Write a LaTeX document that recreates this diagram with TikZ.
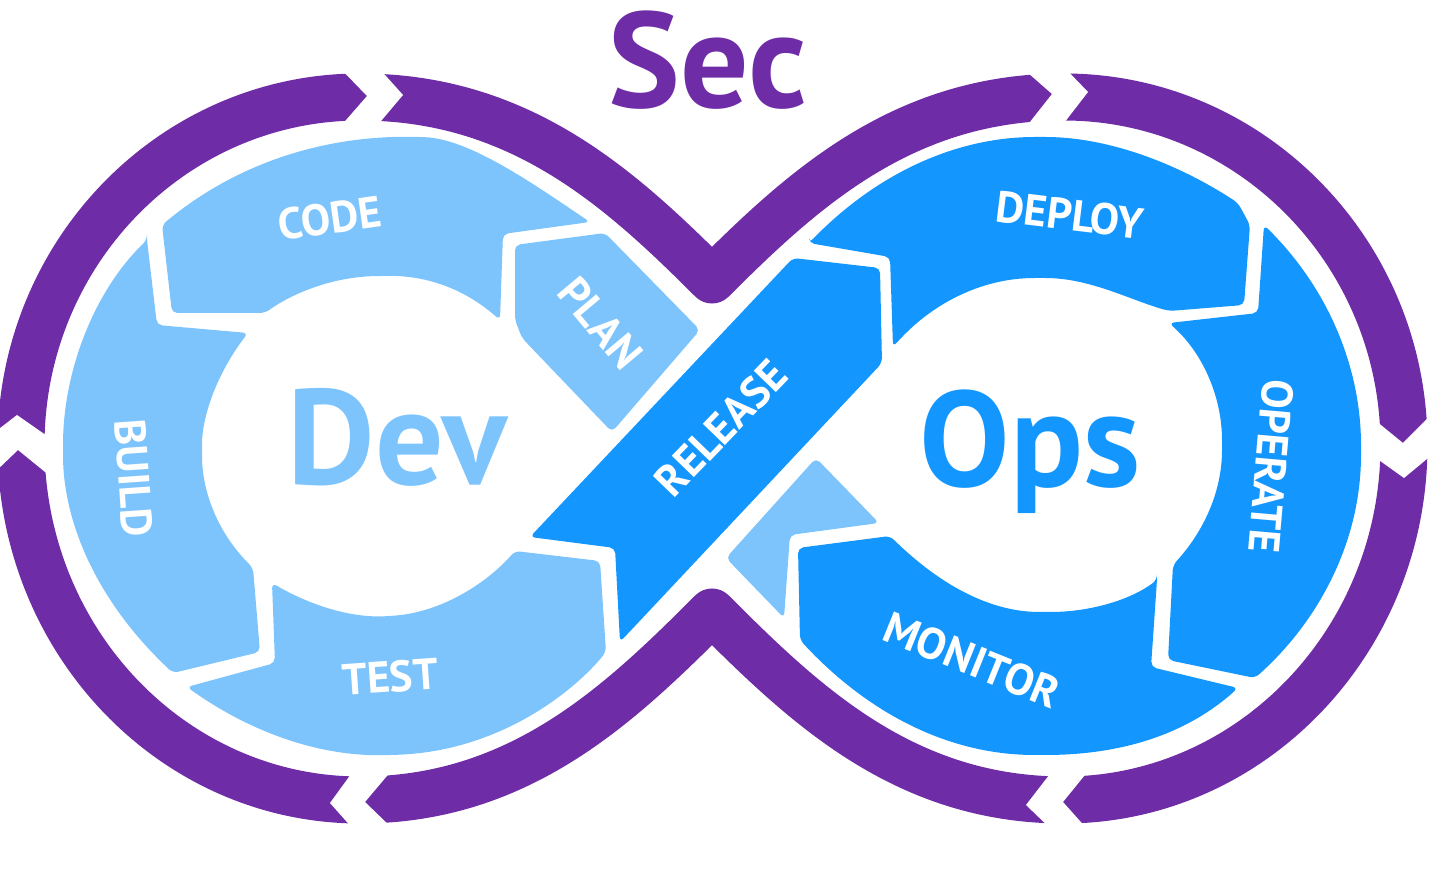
\documentclass[tikz,border=0pt]{standalone}
\usepackage{fontspec}
\setmainfont{PT Sans}

\definecolor{secpurple}{RGB}{111,44,167}
\definecolor{devblue}{RGB}{125,196,253}
\definecolor{opsblue}{RGB}{20,150,255}

\begin{document}
\begin{tikzpicture}[x=0.01cm,y=-0.01cm,
  band/.style={secpurple,line width=0.47cm,line join=round},
  gapcut/.style={fill=white},
  devpiece/.style={fill=devblue,rounded corners=1.5pt},
  opspiece/.style={fill=opsblue,rounded corners=1.5pt},
  steplabel/.style={white,font=\bfseries\fontsize{12.5}{14}\selectfont,inner sep=0},
  bigword/.style={font=\bfseries\fontsize{38.5}{44}\selectfont,inner sep=0,anchor=base}]

\useasboundingbox (0,0) rectangle (1456,876);

% Outer band
\draw[band] (21,445) .. controls (21,253) and (173,97) .. (360,97)
  .. controls (520,97) and (620,188) .. (712,280)
  .. controls (804,188) and (904,97) .. (1064,97)
  .. controls (1251,97) and (1404,253) .. (1404,445)
  .. controls (1404,641) and (1251,800) .. (1064,800)
  .. controls (904,800) and (804,704) .. (712,612)
  .. controls (620,704) and (520,800) .. (360,800)
  .. controls (173,800) and (21,641) .. (21,445) -- cycle;

% breaks in the band
\fill[gapcut] (338,66) -- (367,96) -- (340,127) -- (376,127) -- (403,95) -- (377,66) -- cycle;
\fill[gapcut] (1019,65) -- (1052,94) -- (1026,127) -- (1061,127) -- (1088,92) -- (1062,65) -- cycle;
\fill[gapcut] (1376,421) -- (1403,443) -- (1433,413) -- (1433,454) -- (1404,478) -- (1376,458) -- cycle;
\fill[gapcut] (1089,770) -- (1063,802) -- (1088,830) -- (1052,830) -- (1026,805) -- (1053,770) -- cycle;
\fill[gapcut] (392,770) -- (365,802) -- (394,830) -- (354,830) -- (330,803) -- (354,770) -- cycle;
\fill[gapcut] (-5,472) -- (18,450) -- (50,476) -- (50,438) -- (17,415) -- (-5,432) -- cycle;

% Dev loop
\fill[devpiece] (162,225) .. controls (240,160) and (330,135) .. (420,137)
  .. controls (470,139) and (535,185) .. (590,222) -- (503,234) -- (500,320)
  .. controls (460,285) and (420,275) .. (380,276)
  .. controls (330,277) and (290,295) .. (265,313) -- (172,313) -- cycle;
\fill[devpiece] (147,240) -- (157,325) -- (248,333)
  .. controls (218,372) and (202,415) .. (202,450)
  .. controls (202,495) and (220,535) .. (253,568)
  -- (260,652) -- (173,673)
  .. controls (95,600) and (63,520) .. (63,450)
  .. controls (63,370) and (95,290) .. (147,240) -- cycle;
\fill[devpiece] (272,583) .. controls (310,605) and (350,618) .. (390,616)
  .. controls (440,612) and (485,585) .. (515,551) -- (600,561) -- (606,652)
  .. controls (575,690) and (500,752) .. (390,755)
  .. controls (310,757) and (240,725) .. (187,687) -- (275,663) -- cycle;
\fill[devpiece] (515,245) -- (605,233) -- (700,330) -- (612,432) -- (522,338) -- (515,320) -- cycle;
\fill[devpiece] (816,458) -- (879,523) -- (790,535) -- (784,618) -- (726,558) -- cycle;

% Ops loop
\fill[opspiece] (530,537) -- (793,258) -- (880,268) -- (882,363) -- (620,642) -- (615,548) -- cycle;
\fill[opspiece] (809,243) -- (890,257) -- (893,347)
  .. controls (930,305) and (980,278) .. (1040,278)
  .. controls (1090,278) and (1130,300) .. (1169,311) -- (1244,305) -- (1250,225) -- (1238,203)
  .. controls (1180,165) and (1110,137) .. (1040,137)
  .. controls (960,137) and (880,170) .. (809,243) -- cycle;
\fill[opspiece] (1264,225) .. controls (1330,290) and (1361,370) .. (1361,450)
  .. controls (1361,540) and (1320,620) .. (1255,678) -- (1168,660) -- (1173,565)
  .. controls (1205,530) and (1222,490) .. (1222,445)
  .. controls (1222,400) and (1205,355) .. (1169,323) -- (1258,313) -- cycle;
\fill[opspiece] (1157,580) -- (1151,667) -- (1238,688)
  .. controls (1180,740) and (1110,755) .. (1040,755)
  .. controls (940,755) and (860,705) .. (800,640) -- (798,548) -- (890,536)
  .. controls (940,585) and (990,612) .. (1045,612)
  .. controls (1090,612) and (1130,600) .. (1157,580) -- cycle;

% step names
\node[steplabel,rotate=8] (code) at (330,218) {CODE};
\node[steplabel,rotate=-50] (plan) at (601,323) {PLAN};
\node[steplabel,rotate=-86] (build) at (134,478) {BUILD};
\node[steplabel,rotate=4] (test) at (390,677) {TEST};
\node[steplabel,rotate=46] (release) at (721,428) {RELEASE};
\node[steplabel,rotate=-7] (deploy) at (1070,215) {DEPLOY};
\node[steplabel,rotate=-95] (operate) at (1271,466) {OPERATE};
\node[steplabel,rotate=-22] (monitor) at (972,660) {MONITOR};

% big words
\node[bigword,secpurple] (sec) at (708,108) {Sec};
\node[bigword,devblue] (dev) at (397,485) {Dev};
\node[bigword,opsblue] (ops) at (1030,487) {Ops};

\end{tikzpicture}
\end{document}
